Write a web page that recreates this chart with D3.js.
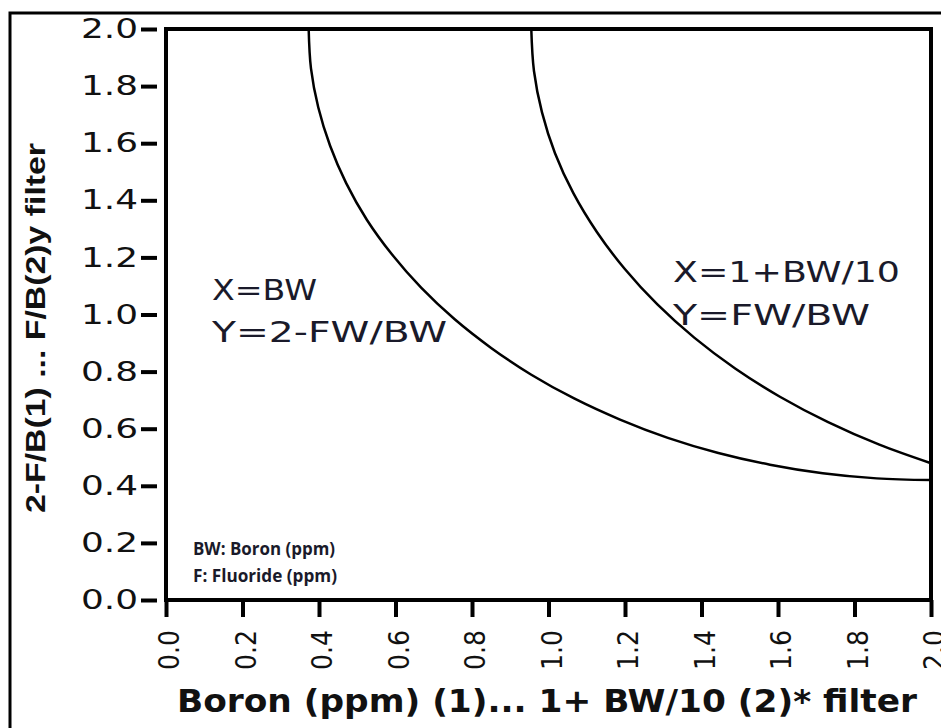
<!DOCTYPE html>
<html>
<head>
<meta charset="utf-8">
<script src="https://cdn.jsdelivr.net/npm/d3@7"></script>
<style>
  body { margin: 0; background: #fff; }
  svg { display: block; }
</style>
</head>
<body>
<div id="chart"></div>
<script>
// Curves (x in axis units, y in axis units)
const curve1X = [0.373, 0.379, 0.398, 0.429, 0.471, 0.525, 0.591, 0.667, 0.754, 0.850, 0.954, 1.067, 1.187, 1.312, 1.444, 1.579, 1.717, 1.858, 2.0];
const curve1Y = [2.0, 1.862, 1.726, 1.591, 1.460, 1.332, 1.210, 1.094, 0.984, 0.883, 0.790, 0.706, 0.632, 0.568, 0.515, 0.474, 0.444, 0.426, 0.42];

const curve2X = [0.955, 0.962, 0.983, 1.017, 1.065, 1.126, 1.199, 1.284, 1.381, 1.488, 1.605, 1.731, 1.865, 2.0];
const curve2Y = [2.0, 1.853, 1.708, 1.565, 1.425, 1.290, 1.160, 1.036, 0.919, 0.811, 0.712, 0.623, 0.544, 0.479];

const xTicks = [0, 0.2, 0.4, 0.6, 0.8, 1.0, 1.2, 1.4, 1.6, 1.8, 2.0];
const yTicks = [0, 0.2, 0.4, 0.6, 0.8, 1.0, 1.2, 1.4, 1.6, 1.8, 2.0];

const width = 941, height = 728;
const plot = { left: 166, right: 931, top: 29, bottom: 600 };

const svg = d3.select("#chart")
  .append("svg")
    .attr("width", width)
    .attr("height", height);

svg.append("rect")
  .attr("width", width).attr("height", height)
  .attr("fill", "#fff");

// outer frame (runs off the right and bottom edges)
svg.append("rect")
  .attr("x", 10).attr("y", 13)
  .attr("width", 960).attr("height", 760)
  .attr("fill", "none")
  .attr("stroke", "#000")
  .attr("stroke-width", 3);

const x = d3.scaleLinear().domain([0, 2]).range([plot.left, plot.right]);
const y = d3.scaleLinear().domain([0, 2]).range([plot.bottom, plot.top]);

// Y axis (ticks sit a little off the frame)
const yAxis = svg.append("g")
  .attr("transform", `translate(${plot.left - 9},0)`)
  .call(d3.axisLeft(y).tickValues(yTicks).tickSize(16).tickPadding(3).tickFormat(d3.format(".1f")));
yAxis.select(".domain").remove();
yAxis.selectAll(".tick line").attr("stroke", "#000").attr("stroke-width", 4);
yAxis.selectAll(".tick text")
  .attr("fill", "#111")
  .style("font-family", "'DejaVu Sans', Verdana, sans-serif")
  .style("font-size", "27px")
  .attr("textLength", 57)
  .attr("lengthAdjust", "spacingAndGlyphs");

// X axis
const xAxis = svg.append("g")
  .attr("transform", `translate(0,${plot.bottom})`)
  .call(d3.axisBottom(x).tickValues(xTicks).tickSize(17).tickFormat(d3.format(".1f")));
xAxis.select(".domain").remove();
xAxis.selectAll(".tick line").attr("stroke", "#000").attr("stroke-width", 4);
xAxis.selectAll(".tick text")
  .attr("fill", "#111")
  .attr("transform", "rotate(-90)")
  .attr("text-anchor", "end")
  .attr("x", -30)
  .attr("y", 3)
  .attr("dy", "0.35em")
  .style("font-family", "'DejaVu Sans', Verdana, sans-serif")
  .style("font-size", "28px")
  .attr("textLength", 40)
  .attr("lengthAdjust", "spacingAndGlyphs");

// plot frame
svg.append("rect")
  .attr("x", plot.left).attr("y", plot.top)
  .attr("width", plot.right - plot.left)
  .attr("height", plot.bottom - plot.top)
  .attr("fill", "none")
  .attr("stroke", "#000")
  .attr("stroke-width", 4);

// Curves
const line = d3.line()
  .x(d => x(d[0]))
  .y(d => y(d[1]))
  .curve(d3.curveCatmullRom.alpha(0.5));

[[curve1X, curve1Y], [curve2X, curve2Y]].forEach(([xs, ys]) => {
  svg.append("path")
    .datum(xs.map((v, i) => [v, ys[i]]))
    .attr("d", line)
    .attr("fill", "none")
    .attr("stroke", "#000")
    .attr("stroke-width", 2.5);
});

// Annotations
const formula = (tx, ty, str, len) => svg.append("text")
  .attr("x", tx).attr("y", ty)
  .attr("fill", "#1a1a2a")
  .style("font-family", "'DejaVu Sans', Verdana, sans-serif")
  .style("font-size", "29px")
  .attr("textLength", len)
  .attr("lengthAdjust", "spacingAndGlyphs")
  .text(str);

formula(212, 300, "X=BW", 105);
formula(212, 342, "Y=2-FW/BW", 235);
formula(673, 282, "X=1+BW/10", 227);
formula(673, 325, "Y=FW/BW", 197);

const note = (ty, str, len) => svg.append("text")
  .attr("x", 193).attr("y", ty)
  .attr("fill", "#1a1a2a")
  .style("font-family", "'Open Sans', sans-serif")
  .style("font-weight", "700")
  .style("font-size", "17px")
  .attr("textLength", len)
  .attr("lengthAdjust", "spacingAndGlyphs")
  .text(str);

note(555, "BW: Boron (ppm)", 142);
note(582, "F: Fluoride (ppm)", 144);

// Axis titles
svg.append("text")
  .attr("x", 547).attr("y", 712)
  .attr("text-anchor", "middle")
  .attr("fill", "#111")
  .style("font-family", "'DejaVu Sans', Verdana, sans-serif")
  .style("font-weight", "bold")
  .style("font-size", "32px")
  .attr("textLength", 740)
  .attr("lengthAdjust", "spacingAndGlyphs")
  .text("Boron (ppm) (1)... 1+ BW/10 (2)* filter");

svg.append("text")
  .attr("transform", "translate(45,328) rotate(-90)")
  .attr("text-anchor", "middle")
  .attr("fill", "#111")
  .style("font-family", "'Liberation Sans Narrow', 'Liberation Sans', sans-serif")
  .style("font-weight", "bold")
  .style("font-size", "27px")
  .attr("textLength", 370)
  .attr("lengthAdjust", "spacingAndGlyphs")
  .text("2-F/B(1) ... F/B(2)y filter");
</script>
</body>
</html>
